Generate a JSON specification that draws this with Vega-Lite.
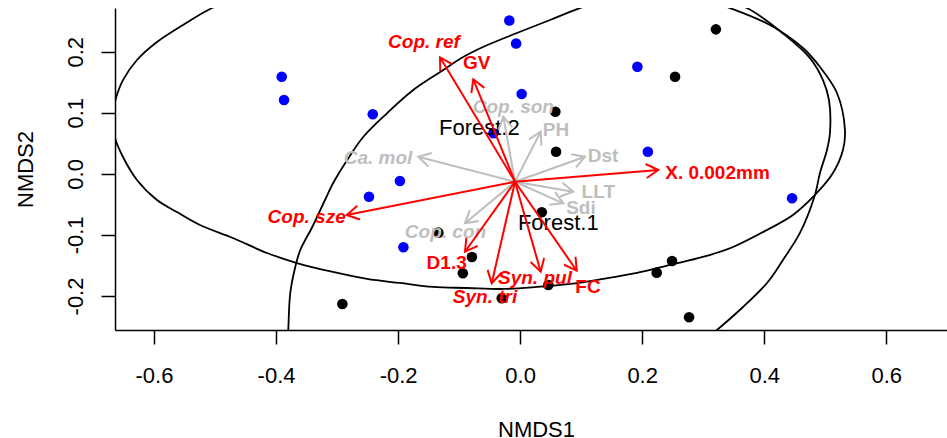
{
  "$schema": "https://vega.github.io/schema/vega-lite/v6.json",
  "width": 832,
  "height": 322,
  "autosize": {"type": "none"},
  "padding": {"left": 115, "top": 8, "right": 0, "bottom": 108},
  "background": "white",
  "config": {"view": {"stroke": null}, "font": "Liberation Sans"},
  "datasets": {
    "ell": [
      {"e":"A","i":1,"x":-0.6688,"y":0.0914},{"e":"A","i":2,"x":-0.6623,"y":0.1241},{"e":"A","i":3,"x":-0.6508,"y":0.1536},{"e":"A","i":4,"x":-0.6279,"y":0.1864},{"e":"A","i":5,"x":-0.5951,"y":0.2158},{"e":"A","i":6,"x":-0.5525,"y":0.2437},{"e":"A","i":7,"x":-0.5050,"y":0.2715},{"e":"A","i":8,"x":-0.4263,"y":0.3043},{"e":"A","i":9,"x":-0.3116,"y":0.3305},{"e":"A","i":10,"x":-0.1641,"y":0.3436},{"e":"A","i":11,"x":-0.0002,"y":0.3403},{"e":"A","i":12,"x":0.1636,"y":0.3174},{"e":"A","i":13,"x":0.2783,"y":0.2928},{"e":"A","i":14,"x":0.3439,"y":0.2715},{"e":"A","i":15,"x":0.4094,"y":0.2437},{"e":"A","i":16,"x":0.4635,"y":0.2061},{"e":"A","i":17,"x":0.4914,"y":0.1750},{"e":"A","i":18,"x":0.5192,"y":0.1324},{"e":"A","i":19,"x":0.5323,"y":0.0718},{"e":"A","i":20,"x":0.5290,"y":0.0391},{"e":"A","i":21,"x":0.5126,"y":0.0014},{"e":"A","i":22,"x":0.4831,"y":-0.0346},{"e":"A","i":23,"x":0.4471,"y":-0.0674},{"e":"A","i":24,"x":0.4045,"y":-0.0919},{"e":"A","i":25,"x":0.3488,"y":-0.1198},{"e":"A","i":26,"x":0.2996,"y":-0.1361},{"e":"A","i":27,"x":0.2455,"y":-0.1492},{"e":"A","i":28,"x":0.1914,"y":-0.1623},{"e":"A","i":29,"x":0.1357,"y":-0.1721},{"e":"A","i":30,"x":0.0817,"y":-0.1803},{"e":"A","i":31,"x":0.0276,"y":-0.1852},{"e":"A","i":32,"x":-0.0281,"y":-0.1885},{"e":"A","i":33,"x":-0.0871,"y":-0.1869},{"e":"A","i":34,"x":-0.1428,"y":-0.1852},{"e":"A","i":35,"x":-0.1969,"y":-0.1787},{"e":"A","i":36,"x":-0.2510,"y":-0.1721},{"e":"A","i":37,"x":-0.3067,"y":-0.1607},{"e":"A","i":38,"x":-0.3657,"y":-0.1460},{"e":"A","i":39,"x":-0.4149,"y":-0.1296},{"e":"A","i":40,"x":-0.4706,"y":-0.1050},{"e":"A","i":41,"x":-0.5247,"y":-0.0837},{"e":"A","i":42,"x":-0.5624,"y":-0.0625},{"e":"A","i":43,"x":-0.5951,"y":-0.0428},{"e":"A","i":44,"x":-0.6279,"y":-0.0100},{"e":"A","i":45,"x":-0.6508,"y":0.0276},{"e":"A","i":46,"x":-0.6639,"y":0.0587},{"e":"A","i":47,"x":-0.6688,"y":0.0914},
      {"e":"B","i":1,"x":-0.3734,"y":-0.3375},{"e":"B","i":2,"x":-0.3816,"y":-0.2802},{"e":"B","i":3,"x":-0.3800,"y":-0.2556},{"e":"B","i":4,"x":-0.3767,"y":-0.1951},{"e":"B","i":5,"x":-0.3685,"y":-0.1525},{"e":"B","i":6,"x":-0.3603,"y":-0.1247},{"e":"B","i":7,"x":-0.3406,"y":-0.0870},{"e":"B","i":8,"x":-0.3198,"y":-0.0428},{"e":"B","i":9,"x":-0.3063,"y":-0.0149},{"e":"B","i":10,"x":-0.2834,"y":0.0227},{"e":"B","i":11,"x":-0.2572,"y":0.0603},{"e":"B","i":12,"x":-0.2178,"y":0.0996},{"e":"B","i":13,"x":-0.1752,"y":0.1373},{"e":"B","i":14,"x":-0.1310,"y":0.1668},{"e":"B","i":15,"x":-0.0933,"y":0.1913},{"e":"B","i":16,"x":-0.0609,"y":0.2077},{"e":"B","i":17,"x":-0.0052,"y":0.2306},{"e":"B","i":18,"x":0.0489,"y":0.2519},{"e":"B","i":19,"x":0.0981,"y":0.2715},{"e":"B","i":20,"x":0.1964,"y":0.3010},{"e":"B","i":21,"x":0.2947,"y":0.2977},{"e":"B","i":22,"x":0.3718,"y":0.2715},{"e":"B","i":23,"x":0.4340,"y":0.2273},{"e":"B","i":24,"x":0.4750,"y":0.1896},{"e":"B","i":25,"x":0.4963,"y":0.1536},{"e":"B","i":26,"x":0.5061,"y":0.1209},{"e":"B","i":27,"x":0.5077,"y":0.0669},{"e":"B","i":28,"x":0.5028,"y":0.0391},{"e":"B","i":29,"x":0.4913,"y":0.0014},{"e":"B","i":30,"x":0.4831,"y":-0.0346},{"e":"B","i":31,"x":0.4585,"y":-0.0968},{"e":"B","i":32,"x":0.4307,"y":-0.1410},{"e":"B","i":33,"x":0.4045,"y":-0.1787},{"e":"B","i":34,"x":0.3652,"y":-0.2180},{"e":"B","i":35,"x":0.3226,"y":-0.2556},{"e":"B","i":36,"x":0.2783,"y":-0.2917},{"e":"B","i":37,"x":0.1964,"y":-0.3375},{"e":"B","i":38,"x":0.0653,"y":-0.3703},{"e":"B","i":39,"x":-0.1150,"y":-0.3867},{"e":"B","i":40,"x":-0.2625,"y":-0.3785},{"e":"B","i":41,"x":-0.3734,"y":-0.3375}
    ],
    "pts": [
      {"grp":"Forest.2","x":-0.3907,"y":0.1590},{"grp":"Forest.2","x":-0.3869,"y":0.1209},{"grp":"Forest.2","x":-0.2415,"y":0.0975},{"grp":"Forest.2","x":-0.0177,"y":0.2510},{"grp":"Forest.2","x":-0.0066,"y":0.2134},{"grp":"Forest.2","x":0.0025,"y":0.1307},{"grp":"Forest.2","x":0.1921,"y":0.1754},{"grp":"Forest.2","x":0.2093,"y":0.0363},{"grp":"Forest.2","x":-0.1970,"y":-0.0117},{"grp":"Forest.2","x":-0.2477,"y":-0.0374},{"grp":"Forest.2","x":-0.1913,"y":-0.1202},{"grp":"Forest.2","x":0.4456,"y":-0.0400},{"grp":"Forest.2","x":-0.0438,"y":0.0664},
      {"grp":"Forest.1","x":0.3208,"y":0.2366},{"grp":"Forest.1","x":0.2539,"y":0.1590},{"grp":"Forest.1","x":0.0577,"y":0.1017},{"grp":"Forest.1","x":0.0589,"y":0.0363},{"grp":"Forest.1","x":0.0355,"y":-0.0629},{"grp":"Forest.1","x":-0.1339,"y":-0.0963},{"grp":"Forest.1","x":-0.0790,"y":-0.1361},{"grp":"Forest.1","x":-0.0939,"y":-0.1628},{"grp":"Forest.1","x":-0.2913,"y":-0.2130},{"grp":"Forest.1","x":-0.0302,"y":-0.2037},{"grp":"Forest.1","x":0.0462,"y":-0.1819},{"grp":"Forest.1","x":0.2238,"y":-0.1618},{"grp":"Forest.1","x":0.2489,"y":-0.1427},{"grp":"Forest.1","x":0.2768,"y":-0.2349}
    ],
    "forest": [
      {"name":"Forest.2","x":-0.0669,"y":0.0746},
      {"name":"Forest.1","x":0.0625,"y":-0.0810}
    ],
    "arrows": [
      {"name":"Ca. mol","x":-0.1669,"y":0.0281,"x0":-0.0084,"y0":-0.0129,"lx":-0.2329,"ly":0.0260,"sig":"no","it":true},
      {"name":"Cop. son","x":-0.0276,"y":0.0936,"x0":-0.0084,"y0":-0.0129,"lx":-0.0112,"ly":0.1090,"sig":"no","it":true},
      {"name":"PH","x":0.0337,"y":0.0690,"x0":-0.0084,"y0":-0.0129,"lx":0.0587,"ly":0.0718,"sig":"no","it":false},
      {"name":"Dst","x":0.1063,"y":0.0281,"x0":-0.0084,"y0":-0.0129,"lx":0.1358,"ly":0.0292,"sig":"no","it":false},
      {"name":"LLT","x":0.0871,"y":-0.0292,"x0":-0.0084,"y0":-0.0129,"lx":0.1281,"ly":-0.0289,"sig":"no","it":false},
      {"name":"Sdi","x":0.0707,"y":-0.0482,"x0":-0.0084,"y0":-0.0129,"lx":0.0997,"ly":-0.0567,"sig":"no","it":false},
      {"name":"Cop. con","x":-0.0904,"y":-0.0810,"x0":-0.0084,"y0":-0.0129,"lx":-0.1223,"ly":-0.0947,"sig":"no","it":true},
      {"name":"Cop. ref","x":-0.1313,"y":0.1908,"x0":-0.0084,"y0":-0.0129,"lx":-0.1576,"ly":0.2159,"sig":"yes","it":true},
      {"name":"GV","x":-0.0768,"y":0.1548,"x0":-0.0084,"y0":-0.0129,"lx":-0.0712,"ly":0.1810,"sig":"yes","it":false},
      {"name":"X. 0.002mm","x":0.2264,"y":0.0063,"x0":-0.0084,"y0":-0.0129,"lx":0.3234,"ly":0.0014,"sig":"yes","it":false},
      {"name":"Cop. sze","x":-0.2842,"y":-0.0674,"x0":-0.0084,"y0":-0.0129,"lx":-0.3498,"ly":-0.0702,"sig":"yes","it":true},
      {"name":"D1.3","x":-0.0904,"y":-0.1275,"x0":-0.0084,"y0":-0.0129,"lx":-0.1204,"ly":-0.1465,"sig":"yes","it":false},
      {"name":"Syn. tri","x":-0.0466,"y":-0.1792,"x0":-0.0084,"y0":-0.0129,"lx":-0.0576,"ly":-0.2011,"sig":"yes","it":true},
      {"name":"Syn. pul","x":0.0337,"y":-0.1602,"x0":-0.0084,"y0":-0.0129,"lx":0.0243,"ly":-0.1710,"sig":"yes","it":true},
      {"name":"FC","x":0.0927,"y":-0.1586,"x0":-0.0084,"y0":-0.0129,"lx":0.1112,"ly":-0.1848,"sig":"yes","it":false}
    ]
  },
  "layer": [
    {
      "data": {"name": "ell"},
      "mark": {"type": "line", "clip": true, "color": "black", "strokeWidth": 1.8, "interpolate": "catmull-rom"},
      "encoding": {
        "x": {"field": "x", "type": "quantitative",
          "scale": {"domain": [-0.6639, 0.6995], "nice": false, "zero": false},
          "axis": {"values": [-0.6, -0.4, -0.2, 0, 0.2, 0.4, 0.6], "grid": false,
            "labelExpr": "replace(format(datum.value, '.1f'), '\u2212', '-')",
            "tickSize": 14, "tickWidth": 1.5, "tickColor": "black", "domainColor": "black", "domainWidth": 1.5,
            "labelFontSize": 22, "labelColor": "black", "labelFont": "Liberation Sans", "labelBaseline": "alphabetic", "labelPadding": 38,
            "labelFlush": false, "labelOverlap": false,
            "title": "NMDS1", "titleFontSize": 22, "titleFontWeight": "normal", "titleColor": "black", "titleFont": "Liberation Sans",
            "titleX": 421, "titleY": 106, "titleBaseline": "alphabetic", "titleAlign": "center"}},
        "y": {"field": "y", "type": "quantitative",
          "scale": {"domain": [-0.2557, 0.2716], "nice": false, "zero": false},
          "axis": {"values": [-0.2, -0.1, 0, 0.1, 0.2], "grid": false,
            "labelExpr": "replace(format(datum.value, '.1f'), '\u2212', '-')",
            "tickSize": 14, "tickWidth": 1.5, "tickColor": "black", "domainColor": "black", "domainWidth": 1.5,
            "labelFontSize": 22, "labelColor": "black", "labelFont": "Liberation Sans", "labelAngle": 270, "labelAlign": "center", "labelBaseline": "alphabetic", "labelPadding": 19,
            "labelFlush": false, "labelOverlap": false,
            "title": "NMDS2", "titleFontSize": 22, "titleFontWeight": "normal", "titleColor": "black", "titleFont": "Liberation Sans",
            "titleAngle": 270, "titleX": -83, "titleY": 161, "titleBaseline": "alphabetic", "titleAlign": "center"}},
        "detail": {"field": "e"},
        "order": {"field": "i", "type": "quantitative"}
      }
    },
    {
      "mark": {"type": "rule", "color": "black", "strokeWidth": 1.5},
      "encoding": {"y": {"datum": 0.2716}}
    },
    {
      "data": {"name": "pts"},
      "mark": {"type": "point", "filled": true, "size": 112, "opacity": 1},
      "encoding": {
        "x": {"field": "x", "type": "quantitative"},
        "y": {"field": "y", "type": "quantitative"},
        "color": {"field": "grp", "type": "nominal", "scale": {"domain": ["Forest.1", "Forest.2"], "range": ["#000000", "#0000FF"]}, "legend": null}
      }
    },
    {
      "data": {"name": "forest"},
      "mark": {"type": "text", "fontSize": 22, "font": "Liberation Sans", "color": "black", "align": "center", "baseline": "middle"},
      "encoding": {
        "x": {"field": "x", "type": "quantitative"},
        "y": {"field": "y", "type": "quantitative"},
        "text": {"field": "name"}
      }
    },
    {
      "data": {"name": "arrows"},
      "transform": [{"filter": "datum.sig == 'no'"}],
      "mark": {"type": "rule", "color": "#BEBEBE", "strokeWidth": 2},
      "encoding": {
        "x": {"field": "x0", "type": "quantitative"},
        "y": {"field": "y0", "type": "quantitative"},
        "x2": {"field": "x"},
        "y2": {"field": "y"}
      }
    },
    {
      "data": {"name": "arrows"},
      "transform": [{"filter": "datum.sig == 'no'"}, {"calculate": "atan2(datum.x - datum.x0, datum.y - datum.y0) * 180 / PI", "as": "ang"}],
      "mark": {"type": "point", "shape": "M-0.5,0.866L0,0L0.5,0.866", "filled": false, "size": 784, "strokeWidth": 2, "color": "#BEBEBE", "opacity": 1},
      "encoding": {
        "x": {"field": "x", "type": "quantitative"},
        "y": {"field": "y", "type": "quantitative"},
        "angle": {"field": "ang", "type": "quantitative", "scale": null}
      }
    },
    {
      "data": {"name": "arrows"},
      "transform": [{"filter": "datum.sig == 'no' && datum.it"}],
      "mark": {"type": "text", "fontSize": 19, "font": "Liberation Sans", "fontWeight": "bold", "fontStyle": "italic", "color": "#BEBEBE", "align": "center", "baseline": "middle"},
      "encoding": {
        "x": {"field": "lx", "type": "quantitative"},
        "y": {"field": "ly", "type": "quantitative"},
        "text": {"field": "name"}
      }
    },
    {
      "data": {"name": "arrows"},
      "transform": [{"filter": "datum.sig == 'no' && !datum.it"}],
      "mark": {"type": "text", "fontSize": 19, "font": "Liberation Sans", "fontWeight": "bold", "color": "#BEBEBE", "align": "center", "baseline": "middle"},
      "encoding": {
        "x": {"field": "lx", "type": "quantitative"},
        "y": {"field": "ly", "type": "quantitative"},
        "text": {"field": "name"}
      }
    },
    {
      "data": {"name": "arrows"},
      "transform": [{"filter": "datum.sig == 'yes'"}],
      "mark": {"type": "rule", "color": "#FF0000", "strokeWidth": 2},
      "encoding": {
        "x": {"field": "x0", "type": "quantitative"},
        "y": {"field": "y0", "type": "quantitative"},
        "x2": {"field": "x"},
        "y2": {"field": "y"}
      }
    },
    {
      "data": {"name": "arrows"},
      "transform": [{"filter": "datum.sig == 'yes'"}, {"calculate": "atan2(datum.x - datum.x0, datum.y - datum.y0) * 180 / PI", "as": "ang"}],
      "mark": {"type": "point", "shape": "M-0.5,0.866L0,0L0.5,0.866", "filled": false, "size": 784, "strokeWidth": 2, "color": "#FF0000", "opacity": 1},
      "encoding": {
        "x": {"field": "x", "type": "quantitative"},
        "y": {"field": "y", "type": "quantitative"},
        "angle": {"field": "ang", "type": "quantitative", "scale": null}
      }
    },
    {
      "data": {"name": "arrows"},
      "transform": [{"filter": "datum.sig == 'yes' && datum.it"}],
      "mark": {"type": "text", "fontSize": 19, "font": "Liberation Sans", "fontWeight": "bold", "fontStyle": "italic", "color": "#FF0000", "align": "center", "baseline": "middle"},
      "encoding": {
        "x": {"field": "lx", "type": "quantitative"},
        "y": {"field": "ly", "type": "quantitative"},
        "text": {"field": "name"}
      }
    },
    {
      "data": {"name": "arrows"},
      "transform": [{"filter": "datum.sig == 'yes' && !datum.it"}],
      "mark": {"type": "text", "fontSize": 19, "font": "Liberation Sans", "fontWeight": "bold", "color": "#FF0000", "align": "center", "baseline": "middle"},
      "encoding": {
        "x": {"field": "lx", "type": "quantitative"},
        "y": {"field": "ly", "type": "quantitative"},
        "text": {"field": "name"}
      }
    }
  ]
}
